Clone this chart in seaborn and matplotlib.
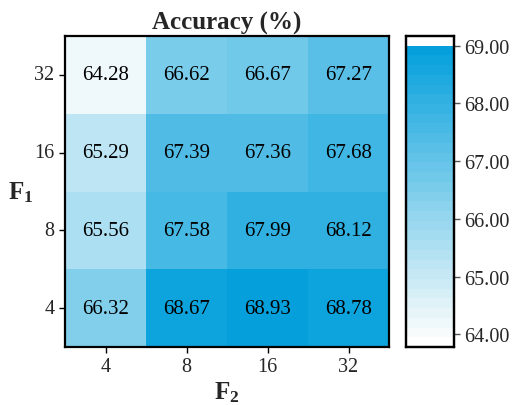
import numpy as np
import pandas as pd
import matplotlib
matplotlib.use("Agg")
import matplotlib.pyplot as plt
import seaborn as sns
from matplotlib.colors import LinearSegmentedColormap, ListedColormap, BoundaryNorm

# ---------------- data ----------------
f1_labels = ["32", "16", "8", "4"]
f2_labels = ["4", "8", "16", "32"]
acc_32 = [64.28, 66.62, 66.67, 67.27]
acc_16 = [65.29, 67.39, 67.36, 67.68]
acc_8 = [65.56, 67.58, 67.99, 68.12]
acc_4 = [66.32, 68.67, 68.93, 68.78]

df = pd.DataFrame([acc_32, acc_16, acc_8, acc_4], index=f1_labels, columns=f2_labels)

# ---------------- style ----------------
sns.set_theme(style="white")
plt.rcParams["font.family"] = ["Liberation Serif", "DejaVu Serif"]
plt.rcParams["mathtext.fontset"] = "custom"
plt.rcParams["mathtext.rm"] = "Liberation Serif"
plt.rcParams["mathtext.bf"] = "Liberation Serif:bold"

# stepped blue colormap with white caps
base = LinearSegmentedColormap.from_list("b", ["#f7fbfb", "#05a0dc"])
n = 30
cols = [(1, 1, 1, 1)] + [base(i / (n - 1)) for i in range(n)] + [(1, 1, 1, 1)]
cmap = ListedColormap(cols)
bounds = np.concatenate([[63.92], np.linspace(63.95, 69.0, n + 1), [69.17]])
norm = BoundaryNorm(bounds, cmap.N)

fig = plt.figure(figsize=(5.13, 4.06), dpi=100)
ax = fig.add_axes([65 / 513, 1 - 348 / 406, 324 / 513, 311 / 406])
cax = fig.add_axes([406 / 513, 1 - 348 / 406, 48 / 513, 311 / 406])

sns.heatmap(df, ax=ax, cbar_ax=cax, cmap=cmap, norm=norm, annot=True, fmt=".2f",
            annot_kws={"size": 15, "color": "black"}, linewidths=0)

ax.set_title("Accuracy (%)", fontsize=18, fontweight="bold", pad=5)
ax.set_xlabel(r"$\mathbf{F_2}$", fontsize=18, labelpad=2)
ax.set_ylabel(r"$\mathbf{F_1}$", fontsize=18, rotation=0, labelpad=10, va="center")

for a in (ax, cax):
    for s in a.spines.values():
        s.set_visible(True)
        s.set_color("black")
        s.set_linewidth(1.6)

ax.tick_params(axis="both", which="major", labelsize=14.5, length=4, width=1,
               color="black", direction="out", bottom=True, left=True)
ax.set_yticklabels(f1_labels, rotation=0)
ax.set_xticklabels(f2_labels, rotation=0)

cb = ax.collections[0].colorbar
cb.minorticks_off()
cb.set_ticks([64, 65, 66, 67, 68, 69])
cb.set_ticklabels(["64.00", "65.00", "66.00", "67.00", "68.00", "69.00"])
cax.tick_params(which="major", labelsize=14.5, length=4, width=1, color="#555555",
                right=True, direction="out")
cax.tick_params(which="minor", length=0)
cb.outline.set_linewidth(1.6)
cb.outline.set_edgecolor("black")

fig.savefig("out.png", dpi=100)
